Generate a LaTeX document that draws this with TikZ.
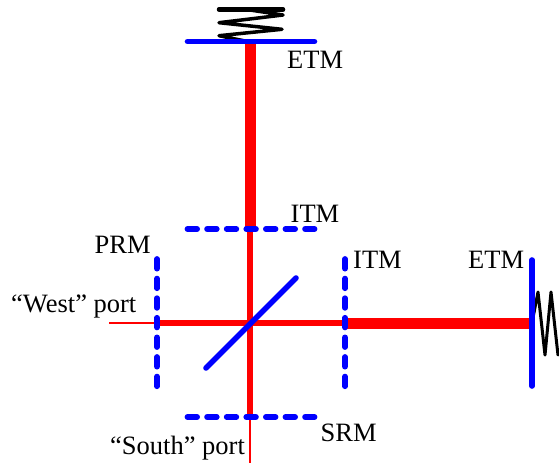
\documentclass[tikz,border=0pt]{standalone}
\usepackage{fontspec}
\setmainfont{Liberation Serif}
\tikzset{
	beamthin/.style={red,line width=2.2pt},
	beammid/.style={red,line width=5.5pt},
	beamthick/.style={red,line width=11pt},
	mirror/.style={blue,line width=5.6pt,line cap=round},
	partial/.style={mirror,line width=5.8pt,dash pattern=on 9.6pt off 10pt},
	spring/.style={black,line width=3pt,line cap=round,line join=round},
	lbl/.style={inner sep=0pt,anchor=base west,font=\fontsize{26.5}{30}\selectfont}
}
\begin{document}
\begin{tikzpicture}[x=1pt,y=-1pt]
		\useasboundingbox (0,0) rectangle (559,463);
		% beam line, north arm
		\coordinate (etmn) at (250,42);
		\coordinate (itmn) at (250,229);
		\coordinate (bs) at (250,323);
		\coordinate (srm) at (250,417);
		\coordinate (south) at (250,463);
		% beam line, west and east arms
		\coordinate (west) at (109,323);
		\coordinate (prm) at (157,323);
		\coordinate (itme) at (345,323);
		\coordinate (etme) at (532,323);
		% mirror ends
		\coordinate (etmnl) at (187.5,41.5);
		\coordinate (etmnr) at (314.5,41.5);
		\coordinate (itmnl) at (187.5,229);
		\coordinate (itmnr) at (314.5,229);
		\coordinate (srml) at (187.5,417);
		\coordinate (srmr) at (314.5,417);
		\coordinate (prmt) at (157,259);
		\coordinate (prmb) at (157,387);
		\coordinate (itmet) at (345,259);
		\coordinate (itmeb) at (345,387);
		\coordinate (etmet) at (532,260);
		\coordinate (etmeb) at (532,386);
		\coordinate (bsl) at (206,368);
		\coordinate (bsr) at (296,278);
		% springs
		\coordinate (spl) at (219,9.5);
		\coordinate (spr) at (283,9.5);
		\draw[spring,line width=4.5pt] (spl) -- (spr);
		\draw[spring,line width=3.5pt] (250,10) -- (283,15) -- (219,22.7) -- (282,29.3) -- (219,35.7) -- (etmn);
		\draw[spring] (etme) -- (538,292) -- (545,355) -- (551,292) -- (558,355);
		% beams
		\draw[beamthick] (etmn) -- (itmn);
		\draw[beammid] (itmn) -- (srm);
		\draw[beamthin] (srm) -- (south);
		\draw[beamthin] (west) -- (prm);
		\draw[beammid] (prm) -- (itme);
		\draw[beamthick] (itme) -- (etme);
		% mirrors
		\draw[mirror] (etmnl) -- (etmnr);
		\draw[mirror] (etmet) -- (etmeb);
		\draw[mirror] (bsl) -- (bsr);
		\draw[partial] (itmnl) -- (itmnr);
		\draw[partial] (srml) -- (srmr);
		\draw[partial] (prmt) -- (prmb);
		\draw[partial] (itmet) -- (itmeb);
		% labels
		\node[lbl] (letmn) at (287,68) {ETM};
		\node[lbl] (litmn) at (290.5,222) {ITM};
		\node[lbl] (litme) at (353,268) {ITM};
		\node[lbl] (letme) at (468,268) {ETM};
		\node[lbl] (lprm) at (94.5,253) {PRM};
		\node[lbl] (lwest) at (11,312) {“West” port};
		\node[lbl] (lsouth) at (110,454) {“South” port};
		\node[lbl] (lsrm) at (320.5,441) {SRM};
\end{tikzpicture}
\end{document}
